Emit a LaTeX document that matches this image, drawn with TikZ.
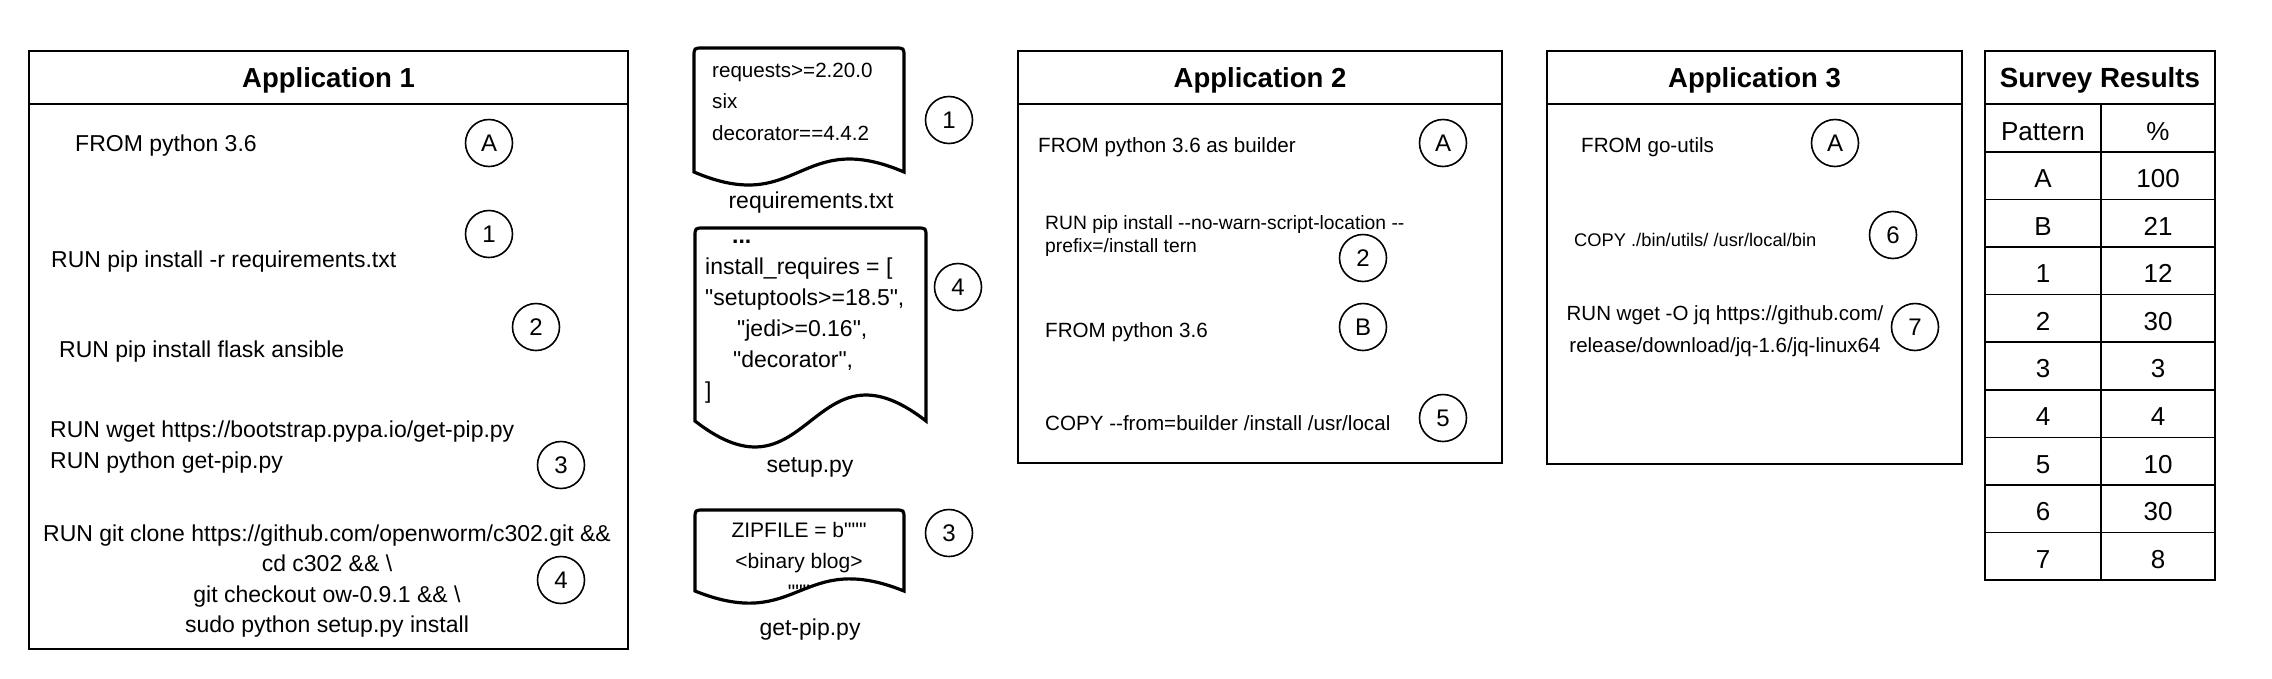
\documentclass[tikz,border=0pt]{standalone}
\usepackage{fontspec}
\setmainfont{Liberation Sans}[Ligatures={TeXOff,CommonOff}]
\usetikzlibrary{positioning, calc}

% outline of a file sheet: rounded top, wavy bottom
\newcommand{\docoutline}[2]{%
  \draw[docline] (#1.south west) -- ([yshift=-9pt]#1.north west)
    .. controls (#1.north west) .. ([xshift=9pt]#1.north west)
    -- ([xshift=-9pt]#1.north east)
    .. controls (#1.north east) .. ([yshift=-9pt]#1.north east)
    -- (#1.south east)
    .. controls ($(#1.south)+(0,-#2)$) and ($(#1.south)+(0,#2)$) .. (#1.south west) -- cycle;}

\begin{document}
\begin{tikzpicture}[
    x=1pt, y=-1pt,
    appbox/.style={draw, line width=1.7pt, anchor=north west, inner sep=0pt, outer sep=0pt},
    apptitle/.style={draw, line width=1.7pt, anchor=north, inner sep=0pt, outer sep=0pt, minimum height=53pt, text depth=0pt, font=\bfseries\fontsize{27.5}{33}\selectfont},
    bigcmd/.style={anchor=west, inner sep=0pt, align=left, font=\fontsize{23}{30.5}\selectfont},
    smallcmd/.style={anchor=west, inner sep=0pt, align=left, font=\fontsize{20.6}{25}\selectfont},
    tagcircle/.style={circle, draw, line width=1.6pt, minimum size=47pt, inner sep=0pt, font=\fontsize{24}{28}\selectfont},
    docframe/.style={anchor=north west, inner sep=0pt, outer sep=0pt},
    docline/.style={line width=3.2pt},
    filelabel/.style={inner sep=0pt, font=\fontsize{23}{28}\selectfont},
    cell/.style={draw, line width=1.6pt, inner sep=0pt, outer sep=0pt, minimum height=47.55pt, text height=24pt, text depth=0pt, font=\fontsize{26}{30}\selectfont}
  ]
  \useasboundingbox (0,0) rectangle (2272,678);

  % Application 1
  \node[appbox, minimum width=599pt, minimum height=598pt] (app1) at (29,51) {};
  \node[apptitle, minimum width=599pt] (app1title) at (app1.north) {Application 1};
  \node[bigcmd] (a1from) at (75,146) {FROM python 3.6};
  \node[tagcircle] (a1tagA) at (489,143) {A};
  \node[bigcmd] (a1req) at (51,262) {RUN pip install -r requirements.txt};
  \node[tagcircle] (a1tag1) at (489,234) {1};
  \node[bigcmd] (a1flask) at (59,352) {RUN pip install flask ansible};
  \node[tagcircle] (a1tag2) at (536,327) {2};
  \node[bigcmd] (a1wget) at (50,447) {RUN wget https://bootstrap.pypa.io/get-pip.py\\RUN python get-pip.py};
  \node[tagcircle] (a1tag3) at (561,465) {3};
  \node[bigcmd, anchor=center, align=center] (a1git) at (327,581) {RUN git clone https://github.com/openworm/c302.git \&\&\\cd c302 \&\& \textbackslash\\git checkout ow-0.9.1 \&\& \textbackslash\\sudo python setup.py install};
  \node[tagcircle] (a1tag4) at (561,580) {4};

  % files
  \node[docframe, minimum width=210pt, minimum height=124pt] (reqdoc) at (694,48) {};
  \docoutline{reqdoc}{45}
  \node[smallcmd, font=\fontsize{20.6}{31.5}\selectfont] (reqtext) at (712,101.5) {requests>=2.20.0\\six\\decorator==4.4.2};
  \node[filelabel] (reqlabel) at (811,203) {requirements.txt};
  \node[tagcircle] (reqtag) at (949,120) {1};

  \node[docframe, minimum width=231pt, minimum height=193pt] (setupdoc) at (695,228) {};
  \docoutline{setupdoc}{90}
  \node[bigcmd, font=\fontsize{23}{31}\selectfont] (setuptext) at (705,321.5) {\hspace*{27pt}\textbf{...}\\install\_requires = [\\"setuptools>=18.5",\\\hspace*{32pt}"jedi>=0.16",\\\hspace*{28pt}"decorator",\\]};
  \node[filelabel] (setuplabel) at (810,467) {setup.py};
  \node[tagcircle] (setuptag) at (958,287) {4};

  \node[docframe, minimum width=209pt, minimum height=81pt] (pipdoc) at (695,510) {};
  \docoutline{pipdoc}{42}
  \node[inner sep=0pt, align=center, font=\fontsize{21}{31}\selectfont] (piptext) at (799,561) {ZIPFILE = b"""\\<binary blog>\\"""};
  \node[filelabel] (piplabel) at (810,630) {get-pip.py};
  \node[tagcircle] (piptag) at (949,533) {3};

  % Application 2
  \node[appbox, minimum width=484pt, minimum height=412pt] (app2) at (1018,51) {};
  \node[apptitle, minimum width=484pt] (app2title) at (app2.north) {Application 2};
  \node[smallcmd] (a2from) at (1038,147) {FROM python 3.6 as builder};
  \node[tagcircle] (a2tagA) at (1443,143) {A};
  \node[smallcmd, font=\fontsize{19.3}{23}\selectfont] (a2pip) at (1045,236) {RUN pip install --no-warn-script-location --\\prefix=/install tern};
  \node[tagcircle] (a2tag2) at (1363,258) {2};
  \node[smallcmd] (a2base) at (1045,332) {FROM python 3.6};
  \node[tagcircle] (a2tagB) at (1363,327) {B};
  \node[smallcmd] (a2copy) at (1045,423) {COPY --from=builder /install /usr/local};
  \node[tagcircle] (a2tag5) at (1443,418) {5};

  % Application 3
  \node[appbox, minimum width=415pt, minimum height=413pt] (app3) at (1547,51) {};
  \node[apptitle, minimum width=415pt] (app3title) at (app3.north) {Application 3};
  \node[smallcmd] (a3from) at (1581,147) {FROM go-utils};
  \node[tagcircle] (a3tagA) at (1835,143) {A};
  \node[smallcmd, font=\fontsize{18.3}{22}\selectfont] (a3copy) at (1574,240) {COPY ./bin/utils/ /usr/local/bin};
  \node[tagcircle] (a3tag6) at (1893,235) {6};
  \node[smallcmd, anchor=center, align=center, font=\fontsize{20.5}{32}\selectfont] (a3wget) at (1725,331) {RUN wget -O jq https://github.com/\\release/download/jq-1.6/jq-linux64};
  \node[tagcircle] (a3tag7) at (1915,327) {7};

  % survey table
  \node[draw, line width=1.6pt, minimum width=230pt, minimum height=53pt, anchor=north west, inner sep=0pt, outer sep=0pt, text depth=0pt, font=\bfseries\fontsize{27.7}{33}\selectfont] (survey) at (1985,51) {Survey Results};
  \node[cell, minimum width=116pt, minimum height=48pt, anchor=north west] (pat0) at (survey.south west) {Pattern};
  \node[cell, minimum width=114pt, minimum height=48pt, right=0pt of pat0] (pct0) {\%};
  \foreach \p/\v [count=\i, remember=\i as \j (initially 0)] in {A/100,B/21,1/12,2/30,3/3,4/4,5/10,6/30,7/8} {
    \node[cell, minimum width=116pt, below=0pt of pat\j] (pat\i) {\p};
    \node[cell, minimum width=114pt, right=0pt of pat\i] (pct\i) {\v};
  }
\end{tikzpicture}
\end{document}
